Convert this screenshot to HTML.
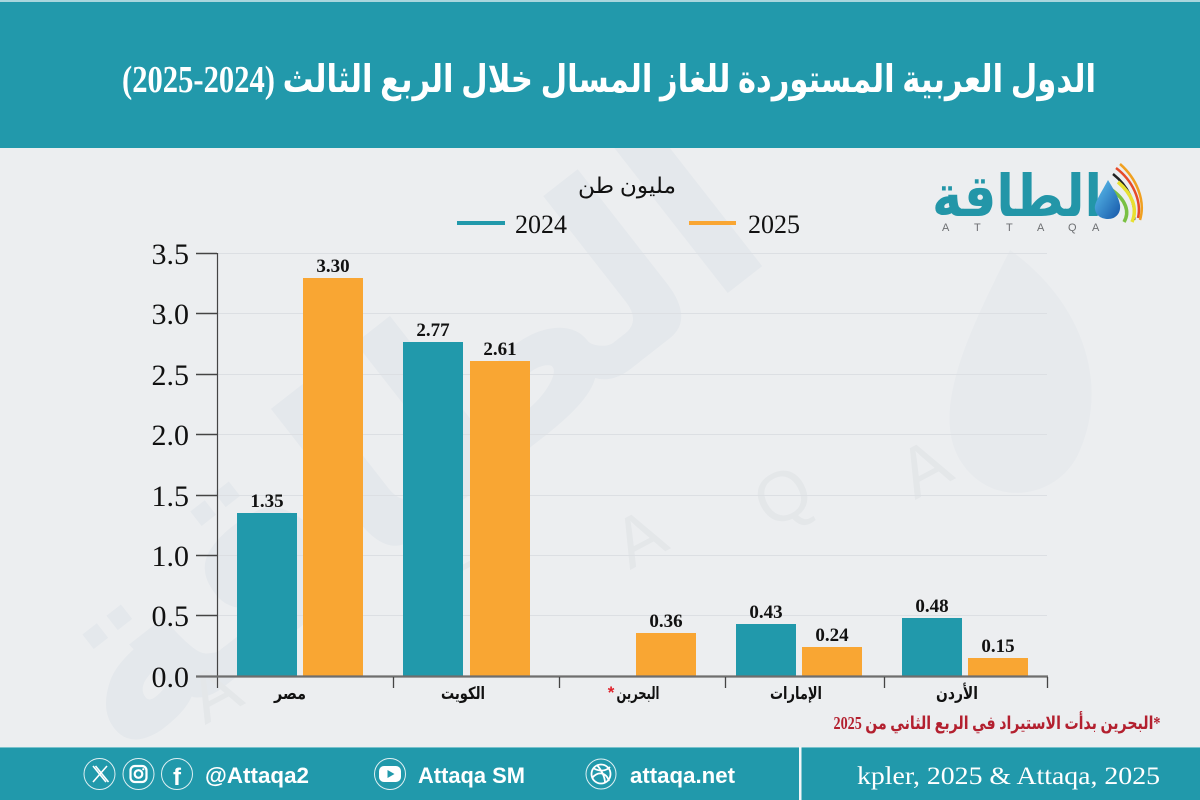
<!DOCTYPE html>
<html>
<head>
<meta charset="utf-8">
<style>
html,body{margin:0;padding:0;background:#eceef0;}
svg{display:block;}
</style>
</head>
<body>
<svg width="1200" height="800" viewBox="0 0 1200 800" xmlns="http://www.w3.org/2000/svg">
  <defs>
    <linearGradient id="dropg" x1="0" y1="0" x2="1" y2="1">
      <stop offset="0" stop-color="#5ec3ef"/>
      <stop offset="1" stop-color="#1556a8"/>
    </linearGradient>
  </defs>
  <!-- background -->
  <rect x="0" y="0" width="1200" height="800" fill="#eceef0"/>

  <!-- watermark -->
  <g opacity="0.3">
    <text x="420" y="520" transform="rotate(-38 420 470)" font-family="DejaVu Sans, sans-serif" font-weight="bold" font-size="250" fill="#d4dbe3" text-anchor="middle">الطاقة</text>
    <g font-family="Liberation Sans, sans-serif" font-size="70" fill="#d2d6db">
      <text x="205" y="725" transform="rotate(-28 205 725)">A</text>
      <text x="335" y="660" transform="rotate(-28 335 660)">T</text>
      <text x="480" y="610" transform="rotate(-28 480 610)">T</text>
      <text x="630" y="570" transform="rotate(-28 630 570)">A</text>
      <text x="770" y="530" transform="rotate(-28 770 530)">Q</text>
      <text x="915" y="500" transform="rotate(-28 915 500)">A</text>
    </g>
    <path d="M1010 250 C1080 300 1110 380 1080 450 C1060 500 990 510 960 460 C930 410 970 330 1010 250 Z" fill="#dde2e8"/>
  </g>

  <!-- header -->
  <rect x="0" y="0" width="1200" height="148" fill="#2299ab"/>
  <rect x="0" y="0" width="1200" height="2" fill="#a9d6dd"/>
  <text x="609" y="92" text-anchor="middle" font-family="Liberation Serif, DejaVu Sans, serif" font-weight="bold" font-size="38" fill="#ffffff" textLength="974" lengthAdjust="spacingAndGlyphs">الدول العربية المستوردة للغاز المسال خلال الربع الثالث (2024-2025)</text>

  <!-- logo -->
  <text x="1017" y="216" text-anchor="middle" font-family="DejaVu Sans, sans-serif" font-weight="bold" font-size="58" fill="#2396a8" textLength="170" lengthAdjust="spacingAndGlyphs">الطاقة</text>
  <g font-family="Liberation Sans, sans-serif" font-size="11" fill="#6d6f72">
    <text x="942" y="231">A</text>
    <text x="974" y="231">T</text>
    <text x="1006" y="231">T</text>
    <text x="1037" y="231">A</text>
    <text x="1068" y="231">Q</text>
    <text x="1092" y="231">A</text>
  </g>
  <g>
    <path d="M1116 168 C1132 180 1142 200 1138 218" fill="none" stroke="#e64b2a" stroke-width="2.5"/>
    <path d="M1120 164 C1136 178 1146 200 1140 220" fill="none" stroke="#f0a020" stroke-width="2.5"/>
    <path d="M1113 174 C1128 186 1136 202 1134 220" fill="none" stroke="#222" stroke-width="2.5"/>
    <path d="M1118 182 C1132 194 1138 208 1132 222" fill="none" stroke="#e8e030" stroke-width="3.5"/>
    <path d="M1112 190 C1126 200 1130 212 1124 222" fill="none" stroke="#7ac043" stroke-width="3.5"/>
    <path d="M1108 180 C1100 195 1094 203 1095 209 C1096 216 1102 219 1108 219 C1116 219 1121 213 1120 205 C1119 198 1114 190 1108 180 Z" fill="url(#dropg)"/>
  </g>

  <!-- unit + legend -->
  <text x="627" y="193" text-anchor="middle" font-family="Liberation Serif, DejaVu Sans, serif" font-size="22" fill="#111" textLength="98" lengthAdjust="spacingAndGlyphs">مليون طن</text>
  <line x1="457" y1="223" x2="505" y2="223" stroke="#2199ab" stroke-width="4"/>
  <text x="515" y="233" font-family="Liberation Serif, serif" font-size="26" fill="#111" textLength="52" lengthAdjust="spacingAndGlyphs">2024</text>
  <line x1="689" y1="223" x2="736" y2="223" stroke="#f9a633" stroke-width="4"/>
  <text x="748" y="233" font-family="Liberation Serif, serif" font-size="26" fill="#111" textLength="52" lengthAdjust="spacingAndGlyphs">2025</text>

  <!-- gridlines -->
  <g stroke="#dcdfe3" stroke-width="1">
    <line x1="218" y1="253.5" x2="1047" y2="253.5"/>
    <line x1="218" y1="313.5" x2="1047" y2="313.5"/>
    <line x1="218" y1="374.5" x2="1047" y2="374.5"/>
    <line x1="218" y1="434.5" x2="1047" y2="434.5"/>
    <line x1="218" y1="495.5" x2="1047" y2="495.5"/>
    <line x1="218" y1="555.5" x2="1047" y2="555.5"/>
    <line x1="218" y1="615.5" x2="1047" y2="615.5"/>
  </g>

  <!-- bars -->
  <g fill="#2199ab">
    <rect x="237" y="513" width="60" height="163"/>
    <rect x="403" y="342" width="60" height="334"/>
    <rect x="736" y="624" width="60" height="52"/>
    <rect x="902" y="618" width="60" height="58"/>
  </g>
  <g fill="#f9a633">
    <rect x="303" y="278" width="60" height="398"/>
    <rect x="470" y="361" width="60" height="315"/>
    <rect x="636" y="633" width="60" height="43"/>
    <rect x="802" y="647" width="60" height="29"/>
    <rect x="968" y="658" width="60" height="18"/>
  </g>

  <!-- value labels -->
  <g font-family="Liberation Serif, serif" font-weight="bold" font-size="19" fill="#111" text-anchor="middle">
    <text x="267" y="507">1.35</text>
    <text x="333" y="272">3.30</text>
    <text x="433" y="336">2.77</text>
    <text x="500" y="355">2.61</text>
    <text x="666" y="627">0.36</text>
    <text x="766" y="618">0.43</text>
    <text x="832" y="641">0.24</text>
    <text x="932" y="612">0.48</text>
    <text x="998" y="652">0.15</text>
  </g>

  <!-- axes -->
  <line x1="217.5" y1="253" x2="217.5" y2="688" stroke="#444" stroke-width="1.2"/>
  <g stroke="#444" stroke-width="1.5">
    <line x1="196" y1="253.5" x2="217" y2="253.5"/>
    <line x1="196" y1="313.5" x2="217" y2="313.5"/>
    <line x1="196" y1="374.5" x2="217" y2="374.5"/>
    <line x1="196" y1="434.5" x2="217" y2="434.5"/>
    <line x1="196" y1="495.5" x2="217" y2="495.5"/>
    <line x1="196" y1="555.5" x2="217" y2="555.5"/>
    <line x1="196" y1="615.5" x2="217" y2="615.5"/>
  </g>
  <line x1="196" y1="676.5" x2="1048" y2="676.5" stroke="#6e6e6e" stroke-width="2.2"/>
  <g stroke="#444" stroke-width="1.3">
    <line x1="393.5" y1="677" x2="393.5" y2="688"/>
    <line x1="559.5" y1="677" x2="559.5" y2="688"/>
    <line x1="725.5" y1="677" x2="725.5" y2="688"/>
    <line x1="884.5" y1="677" x2="884.5" y2="688"/>
    <line x1="1047.5" y1="677" x2="1047.5" y2="688"/>
  </g>
  <g font-family="Liberation Serif, serif" font-size="30" fill="#111" text-anchor="end">
    <text x="189" y="264">3.5</text>
    <text x="189" y="324">3.0</text>
    <text x="189" y="385">2.5</text>
    <text x="189" y="445">2.0</text>
    <text x="189" y="506">1.5</text>
    <text x="189" y="566">1.0</text>
    <text x="189" y="626">0.5</text>
    <text x="189" y="687">0.0</text>
  </g>

  <!-- category labels -->
  <g font-family="DejaVu Sans, sans-serif" font-weight="bold" font-size="17" fill="#111" text-anchor="middle">
    <text x="290" y="699" textLength="32" lengthAdjust="spacingAndGlyphs">مصر</text>
    <text x="463" y="699" textLength="44" lengthAdjust="spacingAndGlyphs">الكويت</text>
    <text x="638" y="699" textLength="43" lengthAdjust="spacingAndGlyphs">البحرين</text>
    <text x="796" y="699" textLength="52" lengthAdjust="spacingAndGlyphs">الإمارات</text>
    <text x="957" y="699" textLength="42" lengthAdjust="spacingAndGlyphs">الأردن</text>
  </g>
  <text x="611" y="698" font-family="Liberation Sans, sans-serif" font-weight="bold" font-size="17" fill="#e0202a" text-anchor="middle">*</text>

  <!-- footnote -->
  <text x="997" y="729" direction="rtl" text-anchor="middle" font-family="Liberation Serif, DejaVu Sans, serif" font-weight="bold" font-size="18" fill="#b3202f" textLength="327" lengthAdjust="spacingAndGlyphs">*البحرين بدأت الاستيراد في الربع الثاني من 2025</text>

  <!-- footer -->
  <rect x="0" y="747" width="1200" height="53" fill="#2199ab"/>
  <line x1="0" y1="747.5" x2="1200" y2="747.5" stroke="#79c2cc" stroke-width="1"/>
  <rect x="799" y="747" width="2.5" height="53" fill="#f2f6f7"/>

  <g fill="none" stroke="#ffffff" stroke-width="1" opacity="0.85">
    <circle cx="99.5" cy="774" r="15.5"/>
    <circle cx="138.5" cy="774" r="15.5"/>
    <circle cx="177" cy="774" r="15.5"/>
    <circle cx="390" cy="774" r="15.5"/>
    <circle cx="601" cy="774" r="15"/>
  </g>
  <!-- X icon -->
  <g stroke="#fff" stroke-width="1.6" fill="none">
    <line x1="93" y1="766" x2="106" y2="782"/>
    <line x1="95.5" y1="766" x2="108.5" y2="782"/>
    <line x1="107" y1="766" x2="93" y2="782"/>
  </g>
  <!-- instagram -->
  <g stroke="#fff" stroke-width="2.2" fill="none">
    <rect x="130.5" y="766" width="16" height="16" rx="4.5"/>
    <circle cx="138.5" cy="774" r="3.8"/>
  </g>
  <circle cx="143.3" cy="769.2" r="1.1" fill="#fff"/>
  <!-- facebook -->
  <text x="177" y="785" text-anchor="middle" font-family="Liberation Sans, sans-serif" font-weight="bold" font-size="24" fill="#fff">f</text>
  <!-- youtube -->
  <rect x="379" y="766" width="22" height="16" rx="5" fill="#fff"/>
  <path d="M387.5 770 L394.5 774 L387.5 778 Z" fill="#2199ab"/>
  <!-- dribbble -->
  <g stroke="#fff" stroke-width="1.8" fill="none">
    <circle cx="601" cy="774" r="9.5"/>
    <path d="M593 768 C600 772 606 771 610 767"/>
    <path d="M592 778 C598 771 606 772 609 781"/>
    <path d="M597 765 C602 771 605 777 605 783"/>
  </g>

  <g font-family="Liberation Sans, sans-serif" font-weight="bold" font-size="22" fill="#ffffff">
    <text x="205" y="783" textLength="104" lengthAdjust="spacingAndGlyphs">@Attaqa2</text>
    <text x="418" y="783" textLength="107" lengthAdjust="spacingAndGlyphs">Attaqa SM</text>
    <text x="630" y="783" textLength="105" lengthAdjust="spacingAndGlyphs">attaqa.net</text>
  </g>
  <text x="857" y="784" font-family="Liberation Serif, serif" font-size="25" fill="#ffffff" textLength="303" lengthAdjust="spacingAndGlyphs">kpler, 2025 &amp; Attaqa, 2025</text>
</svg>
</body>
</html>
